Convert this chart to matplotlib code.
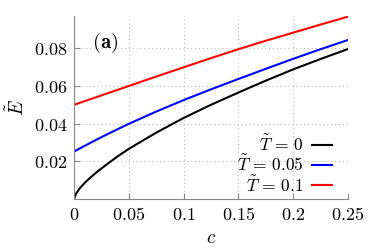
import matplotlib
matplotlib.use("Agg")
import matplotlib.pyplot as plt
from matplotlib.ticker import FuncFormatter

plt.rcParams['mathtext.fontset'] = 'cm'
plt.rcParams['font.family'] = 'serif'
plt.rcParams['font.serif'] = ['DejaVu Serif']

# concentration c
c = [0, 0.0015, 0.0025, 0.005, 0.01, 0.015, 0.02, 0.025, 0.03, 0.04, 0.05,
     0.075, 0.1, 0.125, 0.15, 0.175, 0.2, 0.225, 0.25]
# energy for T = 0, 0.05, 0.1
E_T0 = [0, 0.0024, 0.0034, 0.0055, 0.0087, 0.0114, 0.0139, 0.0162, 0.0184, 0.0227, 0.0266,
        0.0352, 0.0430, 0.0500, 0.0565, 0.0628, 0.0688, 0.0743, 0.0796]
E_T005 = [0.0252, 0.02567, 0.02598, 0.02675, 0.0283, 0.02982, 0.03133, 0.0328, 0.03425, 0.0371, 0.0399,
          0.0464, 0.0525, 0.0582, 0.0637, 0.0691, 0.0744, 0.0795, 0.0844]
E_T01 = [0.0500, 0.0503, 0.0505, 0.0510, 0.0520, 0.0530, 0.0540, 0.0550, 0.0560, 0.0580, 0.0600,
         0.0650, 0.0699, 0.0748, 0.0795, 0.0840, 0.0883, 0.0926, 0.0968]
labels = [r'$\tilde{T} \,=\, 0$', r'$\tilde{T} \,=\, 0.05$', r'$\tilde{T} \,=\, 0.1$']
colors = ['black', 'blue', 'red']

fig = plt.figure(figsize=(3.74, 2.49), dpi=100)
ax = fig.add_axes([0.198, 0.201, 0.732, 0.735])

for E, lab, col in zip([E_T0, E_T005, E_T01], labels, colors):
    ax.plot(c, E, color=col, lw=1.5, label=lab)

ax.set_xlim(0, 0.25)
ax.set_ylim(0, 0.0972)
ax.set_xticks([0, 0.05, 0.1, 0.15, 0.2, 0.25])
ax.set_yticks([0.02, 0.04, 0.06, 0.08])
fmt = FuncFormatter(lambda v, p: '$%g$' % v)
ax.xaxis.set_major_formatter(fmt)
ax.yaxis.set_major_formatter(fmt)
ax.tick_params(direction='in', length=4, color='#888888', labelsize=13, pad=5)
ax.grid(True, ls=(0, (1, 2.5)), color='#bbbbbb', lw=0.8)
for s in ['top', 'right']:
    ax.spines[s].set_visible(False)
for s in ['left', 'bottom']:
    ax.spines[s].set_color('#888888')

ax.set_xlabel('$c$', fontsize=14)
ax.set_ylabel(r'$\tilde{E}$', fontsize=14)
ax.text(0.066, 0.855, r'$\mathbf{(a)}$', transform=ax.transAxes, fontsize=15, va='center')

ax.legend(loc='lower right', bbox_to_anchor=(0.961, -0.01), frameon=False,
          markerfirst=False, fontsize=12.5, handlelength=1.15, handletextpad=0.5,
          labelspacing=0.0, borderaxespad=0, borderpad=0.3)

fig.savefig('out.png', dpi=100)
